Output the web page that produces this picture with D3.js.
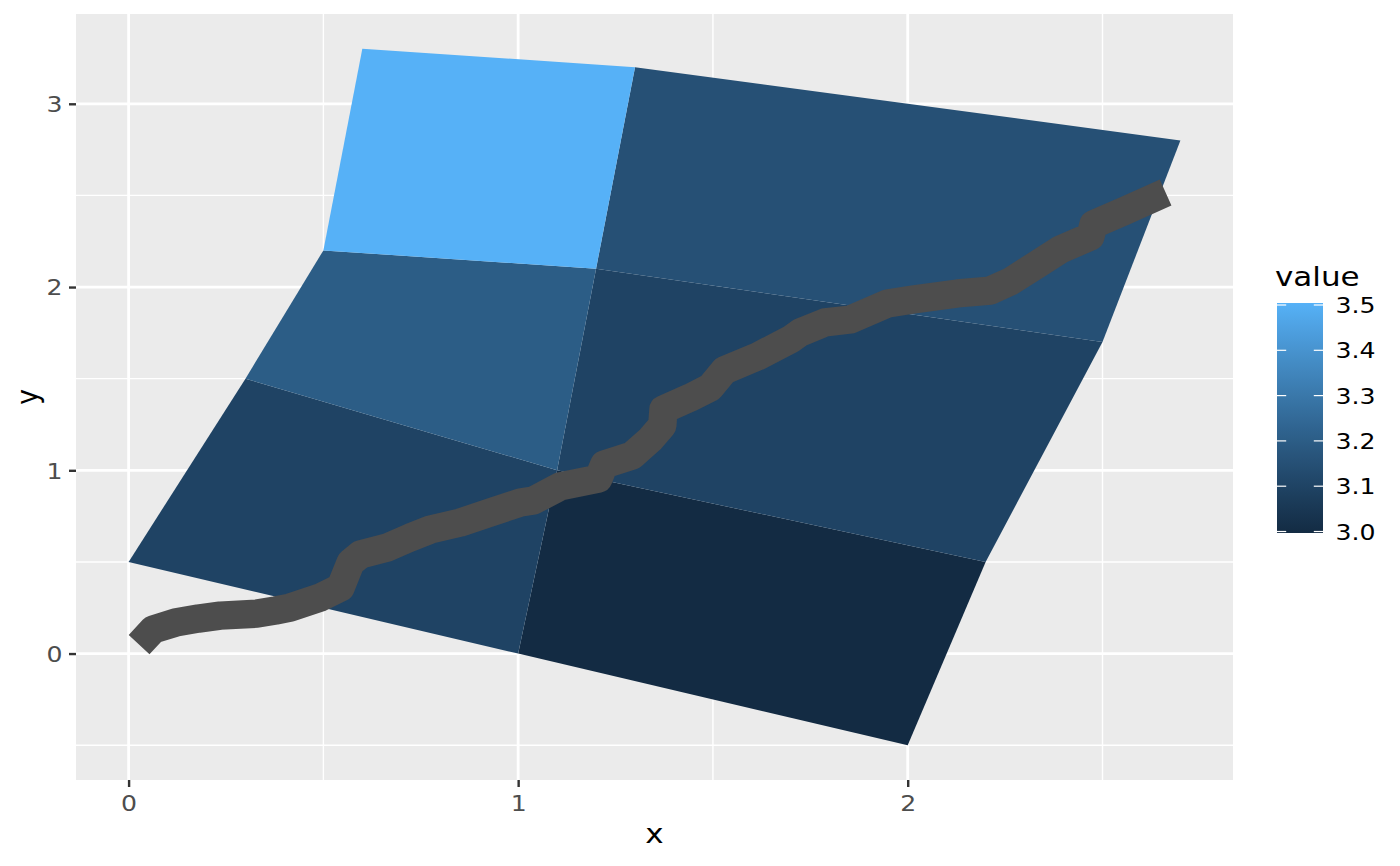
<!DOCTYPE html>
<html>
<head>
<meta charset="utf-8">
<script src="https://cdn.jsdelivr.net/npm/d3@7"></script>
<style>
  html, body { margin: 0; padding: 0; background: #ffffff; }
  svg { display: block; font-family: "DejaVu Sans", sans-serif; }
</style>
</head>
<body>
<svg id="chart" width="1400" height="866"></svg>
<script>
// ---------- data ----------
const cellIds = ["1.1", "2.1", "1.2", "2.2", "1.3", "2.3"];
const cellValues = [3, 3.1, 3.1, 3.2, 3.15, 3.5];
const polyX = [2, 1, 1.1, 2.2, 1, 0, 0.3, 1.1, 2.2, 1.1, 1.2, 2.5, 1.1, 0.3,
               0.5, 1.2, 2.5, 1.2, 1.3, 2.7, 1.2, 0.5, 0.6, 1.3];
const polyY = [-0.5, 0, 1, 0.5, 0, 0.5, 1.5, 1, 0.5, 1, 2.1, 1.7, 1, 1.5,
               2.2, 2.1, 1.7, 2.1, 3.2, 2.8, 2.1, 2.2, 3.3, 3.2];
const streamX = [0.027, 0.063, 0.120, 0.179, 0.235, 0.330, 0.377, 0.415, 0.492, 0.544,
                 0.570, 0.595, 0.664, 0.723, 0.775, 0.852, 0.936, 1.006, 1.039, 1.108,
                 1.206, 1.221, 1.293, 1.339, 1.370, 1.373, 1.442, 1.493, 1.529, 1.614,
                 1.699, 1.724, 1.788, 1.853, 1.948, 2.014, 2.128, 2.212, 2.264, 2.328,
                 2.392, 2.469, 2.477, 2.554, 2.662];
const streamY = [0.049, 0.131, 0.169, 0.191, 0.207, 0.218, 0.235, 0.251, 0.306, 0.360,
                 0.497, 0.540, 0.579, 0.633, 0.677, 0.715, 0.775, 0.824, 0.835, 0.912,
                 0.955, 1.032, 1.081, 1.168, 1.245, 1.332, 1.397, 1.452, 1.545, 1.621,
                 1.714, 1.752, 1.807, 1.823, 1.910, 1.932, 1.965, 1.981, 2.031, 2.118,
                 2.205, 2.276, 2.342, 2.413, 2.516];
const xTicks = [0, 1, 2];
const yTicks = [0, 1, 2, 3];
const xMinor = [0.5, 1.5, 2.5];
const yMinor = [-0.5, 0.5, 1.5, 2.5];
const legendTicks = [3.0, 3.1, 3.2, 3.3, 3.4, 3.5];

// ---------- layout ----------
const SX = 1.17; // horizontal glyph stretch seen in the reference
const svg = d3.select("#chart");
const panel = { left: 76, right: 1233, top: 14, bottom: 780 };

const xExt = d3.extent(polyX.concat(streamX));
const yExt = d3.extent(polyY.concat(streamY));
const xPad = (xExt[1] - xExt[0]) * 0.05, yPad = (yExt[1] - yExt[0]) * 0.05;
const x = d3.scaleLinear().domain([xExt[0] - xPad, xExt[1] + xPad]).range([panel.left, panel.right]);
const y = d3.scaleLinear().domain([yExt[0] - yPad, yExt[1] + yPad]).range([panel.bottom, panel.top]);

const color = d3.scaleLinear().domain([3.0, 3.5]).range(["#132B43", "#56B1F7"])
  .interpolate(d3.interpolateLab);

function label(parent, tx, ty, str, size, anchor, fill, extra) {
  return parent.append("text")
    .attr("transform", `translate(${tx},${ty}) scale(${SX},1)` + (extra || ""))
    .attr("text-anchor", anchor).style("font-size", size + "px")
    .attr("fill", fill).text(str);
}

// panel background
svg.append("rect").attr("x", panel.left).attr("y", panel.top)
  .attr("width", panel.right - panel.left).attr("height", panel.bottom - panel.top)
  .attr("fill", "#EBEBEB");

// grid
const grid = svg.append("g");
grid.selectAll(".vminor").data(xMinor).join("line")
  .attr("x1", d => x(d)).attr("x2", d => x(d)).attr("y1", panel.top).attr("y2", panel.bottom)
  .attr("stroke", "#fff").attr("stroke-width", 1.4);
grid.selectAll(".hminor").data(yMinor).join("line")
  .attr("y1", d => y(d)).attr("y2", d => y(d)).attr("x1", panel.left).attr("x2", panel.right)
  .attr("stroke", "#fff").attr("stroke-width", 1.4);
grid.selectAll(".vmajor").data(xTicks).join("line")
  .attr("x1", d => x(d)).attr("x2", d => x(d)).attr("y1", panel.top).attr("y2", panel.bottom)
  .attr("stroke", "#fff").attr("stroke-width", 2.8);
grid.selectAll(".hmajor").data(yTicks).join("line")
  .attr("y1", d => y(d)).attr("y2", d => y(d)).attr("x1", panel.left).attr("x2", panel.right)
  .attr("stroke", "#fff").attr("stroke-width", 2.8);

// polygons
const polys = cellIds.map((id, i) => ({
  id, value: cellValues[i],
  pts: d3.range(4).map(k => [polyX[i * 4 + k], polyY[i * 4 + k]])
}));
svg.append("g").selectAll("path").data(polys).join("path")
  .attr("d", d => "M" + d.pts.map(p => x(p[0]) + "," + y(p[1])).join("L") + "Z")
  .attr("fill", d => color(d.value));

// stream line
const stream = streamX.map((v, i) => [v, streamY[i]]).sort((a, b) => a[0] - b[0]);
svg.append("path").datum(stream)
  .attr("d", d3.line().x(d => x(d[0])).y(d => y(d[1])))
  .attr("fill", "none").attr("stroke", "#4D4D4D").attr("stroke-width", 28.4)
  .attr("stroke-linejoin", "round").attr("stroke-linecap", "butt");

// axes (ticks through d3 axes; labels restyled)
const xAxis = d3.axisBottom(x).tickValues(xTicks).tickFormat(d3.format("d")).tickSize(7);
const gx = svg.append("g").attr("transform", `translate(0,${panel.bottom})`).call(xAxis);
const yAxis = d3.axisLeft(y).tickValues(yTicks).tickFormat(d3.format("d")).tickSize(7);
const gy = svg.append("g").attr("transform", `translate(${panel.left},0)`).call(yAxis);
[gx, gy].forEach(g => {
  g.select(".domain").remove();
  g.selectAll(".tick line").attr("stroke", "#333333").attr("stroke-width", 2.4);
});
gx.selectAll(".tick text")
  .attr("y", null).attr("dy", null)
  .attr("transform", `translate(0,810.5) scale(${SX},1)`).attr("y", -panel.bottom)
  .attr("fill", "#4D4D4D").style("font-size", "21.5px").style("font-family", "DejaVu Sans, sans-serif");
gy.selectAll(".tick text")
  .attr("x", null).attr("dy", "0.36em")
  .attr("transform", `translate(-13.5,0) scale(${SX},1)`)
  .attr("fill", "#4D4D4D").style("font-size", "21.5px").style("font-family", "DejaVu Sans, sans-serif");

// axis titles
label(svg, (panel.left + panel.right) / 2, 843, "x", 26.5, "middle", "#000");
label(svg, 38, (panel.top + panel.bottom) / 2, "y", 26.5, "middle", "#000", " rotate(-90)");

// legend
const leg = { x: 1277, top: 303, bottom: 533, w: 46 };
label(svg, 1275, 285.5, "value", 26.5, "start", "#000");
const defs = svg.append("defs");
const grad = defs.append("linearGradient").attr("id", "lg").attr("x1", 0).attr("y1", 1).attr("x2", 0).attr("y2", 0);
d3.range(0, 1.0001, 0.05).forEach(t => {
  grad.append("stop").attr("offset", t).attr("stop-color", color(3.0 + 0.5 * t));
});
const ly = d3.scaleLinear().domain([3.0, 3.5]).range([531.5, 305]);
svg.append("rect").attr("x", leg.x).attr("y", leg.top).attr("width", leg.w)
  .attr("height", leg.bottom - leg.top).attr("fill", "url(#lg)");
const lt = svg.append("g");
lt.selectAll(".tl").data(legendTicks).join("line")
  .attr("x1", leg.x).attr("x2", leg.x + 9.2).attr("y1", d => ly(d)).attr("y2", d => ly(d))
  .attr("stroke", "#fff").attr("stroke-width", 1.2);
lt.selectAll(".tr").data(legendTicks).join("line")
  .attr("x1", leg.x + leg.w - 9.2).attr("x2", leg.x + leg.w).attr("y1", d => ly(d)).attr("y2", d => ly(d))
  .attr("stroke", "#fff").attr("stroke-width", 1.2);
legendTicks.forEach(t => {
  label(lt, 1335.5, ly(t) + 8, d3.format(".1f")(t), 21.5, "start", "#000");
});
</script>
</body>
</html>
